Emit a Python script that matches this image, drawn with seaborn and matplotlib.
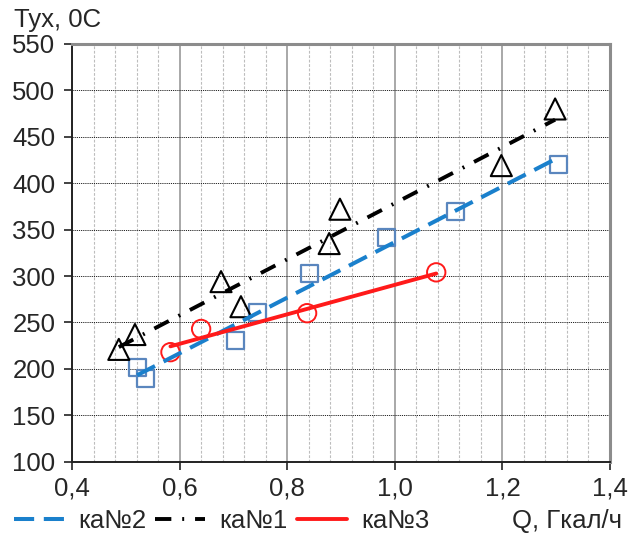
import numpy as np
import pandas as pd
import matplotlib
matplotlib.use("Agg")
import matplotlib.pyplot as plt
import seaborn as sns
from matplotlib.ticker import MultipleLocator, FuncFormatter
from matplotlib.lines import Line2D

# ---- data ----
q_ka1 = [0.487, 0.517, 0.677, 0.714, 0.878, 0.898, 1.198, 1.298]
t_ka1 = [221, 237, 294, 267, 335, 372, 419, 480]
q_ka2 = [0.521, 0.537, 0.703, 0.745, 0.842, 0.984, 1.112, 1.304]
t_ka2 = [201, 190, 231, 261, 303, 342, 370, 420]
q_ka3 = [0.583, 0.640, 0.837, 1.077]
t_ka3 = [218, 243, 260, 304]
labels = ["ка№2", "ка№1", "ка№3"]
x_ticks = [0.4, 0.6, 0.8, 1.0, 1.2, 1.4]
y_ticks = [100, 150, 200, 250, 300, 350, 400, 450, 500, 550]
x_label = "Q, Гкал/ч"
y_label = "Тух, 0С"

df1 = pd.DataFrame({"q": q_ka1, "t": t_ka1})
df2 = pd.DataFrame({"q": q_ka2, "t": t_ka2})
df3 = pd.DataFrame({"q": q_ka3, "t": t_ka3})

sns.set_style("white")
plt.rcParams["font.family"] = ["Liberation Sans", "DejaVu Sans"]

FS = 18.5

fig = plt.figure(figsize=(6.3, 5.36), dpi=100)
ax = fig.add_axes([72 / 630, 1 - 461.7 / 536, (610 - 72) / 630, (461.7 - 44) / 536])

blue_line = "#1A80CC"
blue_mark = "#5A86BE"
red = "#FF1A1A"
blk = "#000000"

ls_blue = (0, (5.0, 2.4))
ls_blk = (0, (4.2, 2.8, 0.5, 2.8))

# markers
sns.scatterplot(data=df2, x="q", y="t", marker="s", s=150, facecolors="none",
                edgecolor=blue_mark, linewidth=1.6, ax=ax, zorder=3)
sns.scatterplot(data=df1, x="q", y="t", marker="^", s=230, facecolors="none",
                edgecolor=blk, linewidth=1.5, ax=ax, zorder=3)
sns.scatterplot(data=df3, x="q", y="t", marker="o", s=175, facecolors="none",
                edgecolor=red, linewidth=1.4, ax=ax, zorder=3)

# linear trend lines
sns.regplot(data=df2, x="q", y="t", scatter=False, ci=None, truncate=True, ax=ax,
            line_kws=dict(color=blue_line, lw=2.9, linestyle=ls_blue, zorder=4))
sns.regplot(data=df1, x="q", y="t", scatter=False, ci=None, truncate=True, ax=ax,
            line_kws=dict(color=blk, lw=2.8, linestyle=ls_blk, zorder=4))
sns.regplot(data=df3, x="q", y="t", scatter=False, ci=None, truncate=True, ax=ax,
            line_kws=dict(color=red, lw=2.8, linestyle="-", zorder=4))

ax.set_xlim(0.4, 1.4)
ax.set_ylim(100, 550)
ax.set_xticks(x_ticks)
ax.set_yticks(y_ticks)
ax.xaxis.set_minor_locator(MultipleLocator(0.04))
ax.xaxis.set_major_formatter(FuncFormatter(lambda v, p: f"{v:.1f}".replace(".", ",")))
ax.set_xlabel("")
ax.set_ylabel("")

ax.grid(False)
ax.grid(True, which="major", axis="x", color="#9A9A9A", lw=1.2, linestyle="-", zorder=1)
ax.grid(True, which="minor", axis="x", color="#BDBDBD", lw=0.8, linestyle=(0, (2.5, 1.5)), zorder=1)
ax.grid(True, which="major", axis="y", color="#222222", lw=0.7, linestyle=(0, (1.2, 1.0)), zorder=1)
ax.set_axisbelow(True)

ax.tick_params(axis="both", which="major", labelsize=FS, length=6, width=1.2,
               color="#222222", direction="out", left=True, bottom=True)
ax.tick_params(axis="x", which="major", pad=5)
ax.tick_params(axis="y", which="major", pad=6)
ax.tick_params(axis="x", which="minor", length=0)

for side in ["left", "bottom"]:
    ax.spines[side].set_color("#222222")
    ax.spines[side].set_linewidth(1.4)
for side in ["top", "right"]:
    ax.spines[side].set_color("#8C8C8C")
    ax.spines[side].set_linewidth(2.2)
for s in ax.spines.values():
    s.set_visible(True)
    s.set_zorder(5)

fig.text(14 / 630, 1 - 27 / 536, y_label, fontsize=FS, ha="left", va="baseline")
fig.text(622 / 630, 1 - 528 / 536, x_label, fontsize=FS, ha="right", va="baseline")

handles = [
    Line2D([], [], color=blue_line, lw=2.9, linestyle=ls_blue),
    Line2D([], [], color=blk, lw=2.8, linestyle=ls_blk),
    Line2D([], [], color=red, lw=2.8, linestyle="-"),
]
fig.legend(handles, labels, loc="center left", bbox_to_anchor=(14 / 630, 1 - 521 / 536),
           ncol=3, frameon=False, fontsize=FS, handlelength=1.95, handletextpad=0.55,
           columnspacing=0.35, borderpad=0, borderaxespad=0)

fig.savefig("out.png", dpi=100)
